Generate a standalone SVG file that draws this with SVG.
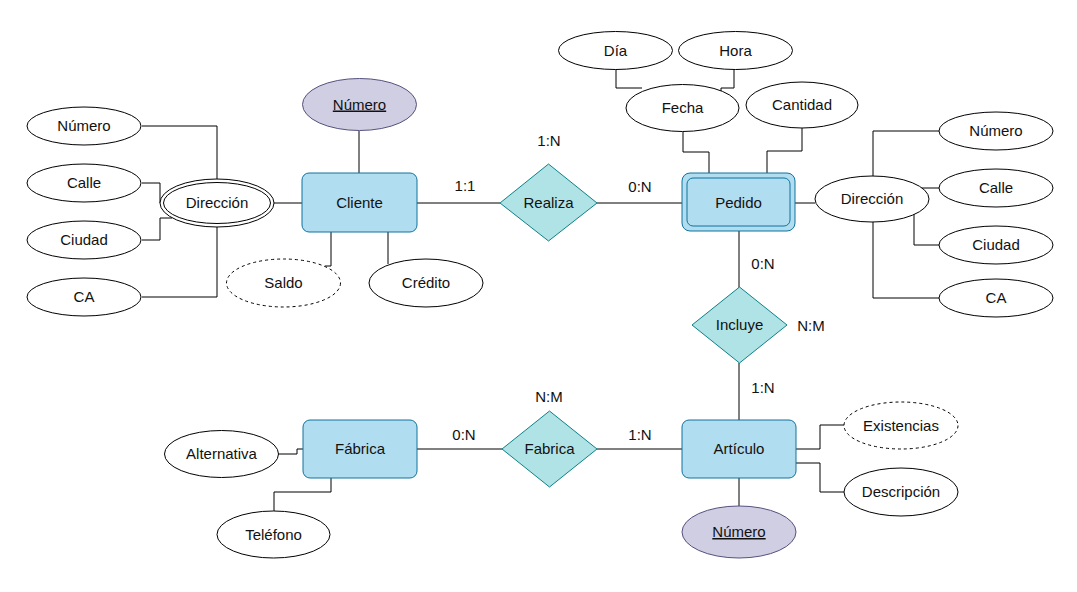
<svg xmlns="http://www.w3.org/2000/svg" width="1077" height="592" viewBox="0 0 1077 592">
<style>
text{font-family:"Liberation Sans",Arial,sans-serif;font-size:15px;fill:#111;text-anchor:middle}
.attr{fill:#fff;stroke:#000;stroke-width:1}
.dash{fill:#fff;stroke:#000;stroke-width:1;stroke-dasharray:3 3}
.key{fill:#d0cee2;stroke:#56517e;stroke-width:1}
.ent{fill:#b1ddf0;stroke:#10739e;stroke-width:1}
.rel{fill:#b0e3e6;stroke:#0e8088;stroke-width:1}
.u{text-decoration:underline}
#connectors path{fill:none;stroke:#000;stroke-width:1}
</style>
<rect width="1077" height="592" fill="#fff"/>
<g id="connectors">
<path d="M142,126 H217 V179"/>
<path d="M142,183 H160 V203"/>
<path d="M142,240 H160 V218 H172"/>
<path d="M142,297 H217 V227"/>
<path d="M274,203 H302"/>
<path d="M359,131 V173"/>
<path d="M331,232 V266 H325"/>
<path d="M388,232 V264"/>
<path d="M417,203 H500"/>
<path d="M597,203 H682"/>
<path d="M616,69 V88 H642"/>
<path d="M734,69 V88 H721 V91"/>
<path d="M683,132 V152 H709 V173"/>
<path d="M802,128 V151 H767 V173"/>
<path d="M795,203 H815"/>
<path d="M939,131 H873 V176"/>
<path d="M939,188 H921 V191"/>
<path d="M939,245 H914 V214"/>
<path d="M939,298 H873 V222"/>
<path d="M739,231 V288"/>
<path d="M739,363 V420"/>
<path d="M417,449 H502"/>
<path d="M597,449 H682"/>
<path d="M278,454 H297 V449 H303"/>
<path d="M331,478 V492 H274 V511"/>
<path d="M739,478 V506"/>
<path d="M796,449 H820 V425 H844"/>
<path d="M796,463 H820 V492 H844"/>
</g>
<g id="lbl-rel">
<text x="465" y="191">1:1</text>
<text x="549" y="146">1:N</text>
<text x="640" y="192">0:N</text>
<text x="763" y="269">0:N</text>
<text x="811" y="331">N:M</text>
<text x="763" y="393">1:N</text>
<text x="549" y="402">N:M</text>
<text x="464" y="440">0:N</text>
<text x="640" y="440">1:N</text>
</g>
<g id="cli-numero"><ellipse class="attr" cx="84" cy="126" rx="57" ry="19"/><text x="84" y="131">Número</text></g>
<g id="cli-calle"><ellipse class="attr" cx="84" cy="183" rx="57" ry="19"/><text x="84" y="188">Calle</text></g>
<g id="cli-ciudad"><ellipse class="attr" cx="84" cy="240" rx="57" ry="19"/><text x="84" y="245">Ciudad</text></g>
<g id="cli-ca"><ellipse class="attr" cx="84" cy="297" rx="57" ry="19"/><text x="84" y="302">CA</text></g>
<g id="cli-direccion"><ellipse class="attr" cx="217" cy="203" rx="57" ry="24"/><ellipse class="attr" cx="217" cy="203" rx="53.5" ry="20.5"/><text x="217" y="208">Dirección</text></g>
<g id="cli-key"><ellipse class="key" cx="359.5" cy="104.5" rx="57" ry="26"/><text class="u" x="359.5" y="109.5">Número</text></g>
<g id="cliente"><rect class="ent" x="302" y="173" width="115" height="59" rx="7"/><text x="359.5" y="208">Cliente</text></g>
<g id="saldo"><ellipse class="dash" cx="283.5" cy="283" rx="57" ry="24"/><text x="283.5" y="288">Saldo</text></g>
<g id="credito"><ellipse class="attr" cx="426" cy="283" rx="57" ry="24"/><text x="426" y="288">Crédito</text></g>
<g id="realiza"><polygon class="rel" points="548.5,164 597,203 548.5,241 500,203"/><text x="548.5" y="208">Realiza</text></g>
<g id="dia"><ellipse class="attr" cx="615.5" cy="50.5" rx="57" ry="19"/><text x="615.5" y="55.5">Día</text></g>
<g id="hora"><ellipse class="attr" cx="735.5" cy="50.5" rx="57" ry="19"/><text x="735.5" y="55.5">Hora</text></g>
<g id="fecha"><ellipse class="attr" cx="682.5" cy="108" rx="56.5" ry="23.5"/><text x="682.5" y="113">Fecha</text></g>
<g id="cantidad"><ellipse class="attr" cx="802" cy="105" rx="56" ry="23"/><text x="802" y="110">Cantidad</text></g>
<g id="pedido"><rect class="ent" x="682" y="173" width="113" height="58" rx="8"/><rect class="ent" x="687" y="178" width="103" height="48" rx="6"/><text x="738.5" y="208">Pedido</text></g>
<g id="ped-direccion"><ellipse class="attr" cx="872" cy="199" rx="57" ry="23"/><text x="872" y="204">Dirección</text></g>
<g id="ped-numero"><ellipse class="attr" cx="996" cy="131" rx="57" ry="19"/><text x="996" y="136">Número</text></g>
<g id="ped-calle"><ellipse class="attr" cx="996" cy="188" rx="57" ry="19"/><text x="996" y="193">Calle</text></g>
<g id="ped-ciudad"><ellipse class="attr" cx="996" cy="245" rx="57" ry="19"/><text x="996" y="250">Ciudad</text></g>
<g id="ped-ca"><ellipse class="attr" cx="996" cy="298" rx="57" ry="19"/><text x="996" y="303">CA</text></g>
<g id="incluye"><polygon class="rel" points="739.5,287 787,325 739.5,363 692,325"/><text x="739.5" y="330">Incluye</text></g>
<g id="articulo"><rect class="ent" x="682" y="420" width="114" height="58" rx="7"/><text x="739" y="454">Artículo</text></g>
<g id="fabrica-ent"><rect class="ent" x="303" y="420" width="114" height="58" rx="7"/><text x="360" y="454">Fábrica</text></g>
<g id="fabrica-rel"><polygon class="rel" points="549.5,411 597,449 549.5,487 502,449"/><text x="549.5" y="454">Fabrica</text></g>
<g id="alternativa"><ellipse class="attr" cx="221.5" cy="454" rx="57" ry="23.5"/><text x="221.5" y="459">Alternativa</text></g>
<g id="telefono"><ellipse class="attr" cx="273.5" cy="534.5" rx="56.5" ry="23.5"/><text x="273.5" y="539.5">Teléfono</text></g>
<g id="art-key"><ellipse class="key" cx="739" cy="532" rx="57" ry="26"/><text class="u" x="739" y="537">Número</text></g>
<g id="existencias"><ellipse class="dash" cx="901" cy="425.5" rx="57" ry="23.5"/><text x="901" y="430.5">Existencias</text></g>
<g id="descripcion"><ellipse class="attr" cx="901" cy="492" rx="57" ry="24"/><text x="901" y="497">Descripción</text></g>
</svg>
